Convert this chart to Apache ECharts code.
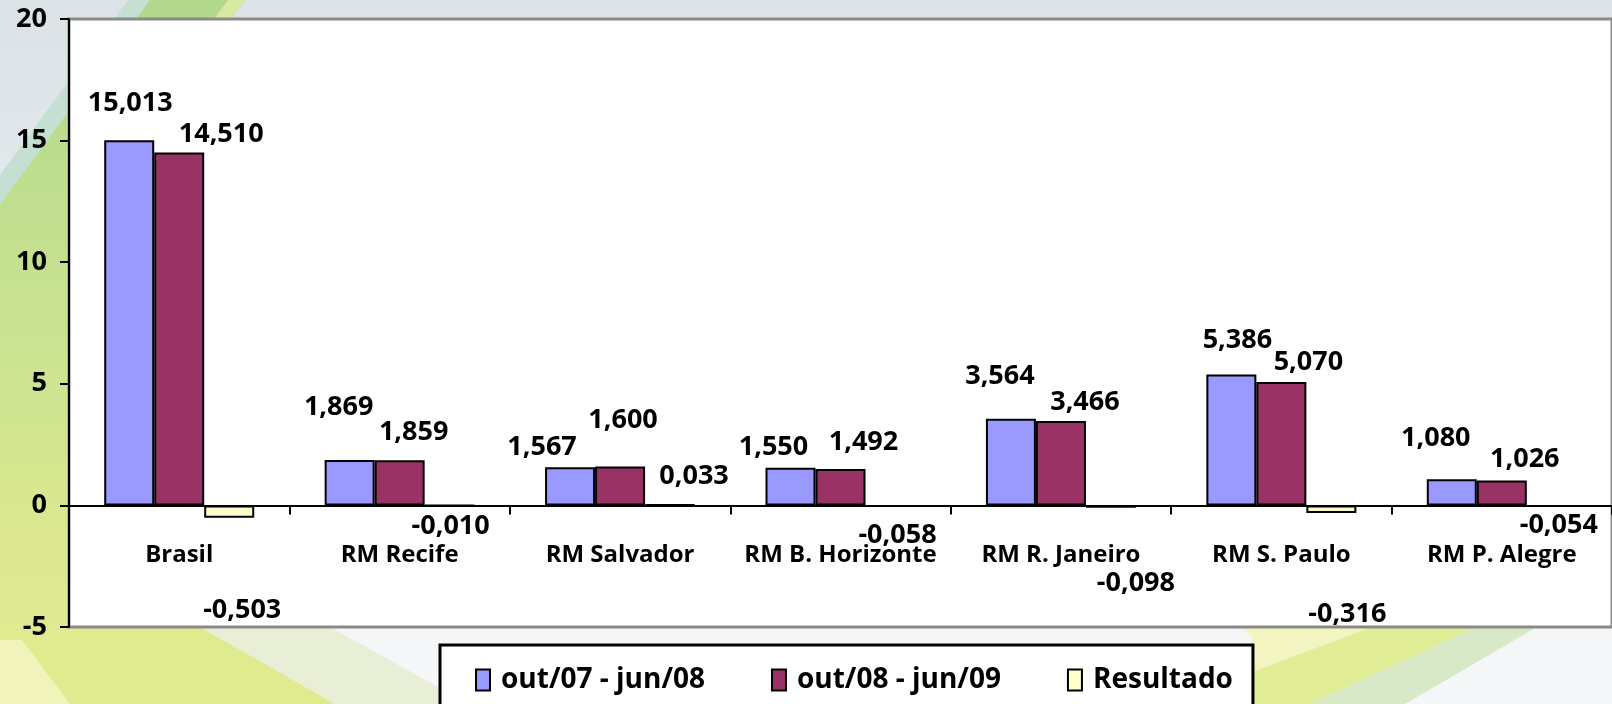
<!DOCTYPE html>
<html>
<head>
<meta charset="utf-8">
<script src="https://cdn.jsdelivr.net/npm/echarts@6/dist/echarts.min.js"></script>
<style>
  html, body { margin: 0; padding: 0; }
  #chart_box { width: 1612px; height: 704px; }
</style>
</head>
<body>
<div id="chart_box"></div>
<script>
// categorias e valores (milhões)
let categories = ['Brasil', 'RM Recife', 'RM Salvador', 'RM B. Horizonte', 'RM R. Janeiro', 'RM S. Paulo', 'RM P. Alegre']
let seriesNames = ['out/07 - jun/08', 'out/08 - jun/09', 'Resultado']
let periodo0708 = [15.013, 1.869, 1.567, 1.550, 3.564, 5.386, 1.080]
let periodo0809 = [14.510, 1.859, 1.600, 1.492, 3.466, 5.070, 1.026]
let resultado = [-0.503, -0.010, 0.033, -0.058, -0.098, -0.316, -0.054]
let yTicks = { min: -5, max: 20, interval: 5 }

// deslocamento dos rótulos (como no gráfico original, ajustados à mão)
let labelShiftA = [[1, -18], [-11, -34], [-28, -1], [-17, -2], [-11, -24], [6, -16], [-16, -22]]
let labelShiftB = [[42, 0], [14, -9], [3, -28], [23, -8], [24, 0], [27, -1], [23, -3]]
let labelShiftC = [[13, 74], [1, 1], [24, -9], [7, 10], [25, 57], [16, 83], [7, 0]]

const labelFont = "'Open Sans', 'Noto Sans', sans-serif"

function fmt(v){
    return v.toFixed(3).replace('.', ',')
}

function buildData(values, shifts, isResult){
    return values.map((v, i) => ({
        value: v,
        label: {
            position: (isResult && v < 0) ? 'bottom' : 'top',
            offset: shifts[i]
        }
    }))
}

let barLabel = {
    show: true,
    color: '#000',
    fontFamily: labelFont,
    fontWeight: 'bold',
    fontSize: 27,
    formatter: function (p) { return fmt(p.value) }
}

// fundo decorativo do slide
function poly(points, fill, z){
    return { type: 'polygon', z: z, silent: true, shape: { points: points }, style: { fill: fill } }
}
let decor = [
    {
        type: 'rect', z: -30, silent: true,
        shape: { x: 0, y: 0, width: 1612, height: 704 },
        style: {
            fill: new echarts.graphic.LinearGradient(0, 0, 0, 1, [
                { offset: 0, color: '#dbe3e7' },
                { offset: 0.85, color: '#f3f5f6' },
                { offset: 1, color: '#f6f7f8' }
            ])
        }
    },
    poly([[133, 0], [245, 0], [69, 240], [69, 704], [0, 704], [0, 180]],
        new echarts.graphic.LinearGradient(0, 0, 0, 1, [
            { offset: 0, color: '#b2d88b' },
            { offset: 0.45, color: '#c8e291' },
            { offset: 0.75, color: '#dbe88f' },
            { offset: 1, color: '#e2eb93' }
        ]), -25),
    poly([[128, 0], [150, 0], [0, 205], [0, 175]], '#c4e0d3', -24),
    poly([[228, 0], [245, 0], [69, 240], [69, 215]], '#d8e9a0', -24),
    poly([[0, 627], [200, 627], [262, 662], [335, 704], [0, 704]], '#e0ea8e', -24),
    poly([[200, 627], [330, 627], [440, 688], [440, 704], [335, 704], [262, 662]], '#e8efd6', -24),
    poly([[0, 640], [22, 640], [70, 704], [0, 704]], '#f0f4bb', -23),
    poly([[1240, 627], [1372, 627], [1252, 672], [1252, 636]], '#f2f5c2', -24),
    poly([[1372, 627], [1477, 627], [1310, 704], [1252, 704], [1252, 672]], '#e0ec96', -24),
    poly([[1477, 627], [1537, 627], [1405, 704], [1310, 704]], '#d8e9c8', -24)
]

let myChart = echarts.init(document.getElementById('chart_box'))
let option = {
    animation: false,
    backgroundColor: '#e6ecee',
    graphic: decor,
    grid: {
        show: true,
        left: 69,
        right: -15,
        top: 19,
        bottom: 77,
        backgroundColor: '#fff',
        borderColor: '#8a8a8a',
        borderWidth: 3
    },
    legend: {
        data: seriesNames,
        left: 440,
        top: 645,
        padding: [21, 20, 22, 35],
        itemWidth: 14,
        itemHeight: 21,
        itemGap: 66,
        backgroundColor: '#fff',
        borderColor: '#000',
        borderWidth: 3,
        borderRadius: 0,
        icon: 'rect',
        itemStyle: { borderColor: '#000', borderWidth: 2 },
        textStyle: {
            fontFamily: labelFont,
            fontWeight: 'bold',
            fontSize: 28,
            color: '#000',
            padding: [0, 0, 0, 6]
        }
    },
    xAxis: {
        type: 'category',
        data: categories,
        axisLine: { onZero: true, lineStyle: { color: '#000', width: 2 } },
        axisTick: { show: true, length: 9, lineStyle: { color: '#000', width: 2 } },
        axisLabel: {
            interval: 0,
            margin: -84,
            color: '#000',
            fontFamily: labelFont,
            fontWeight: 'bold',
            fontSize: 24
        }
    },
    yAxis: {
        type: 'value',
        min: yTicks.min,
        max: yTicks.max,
        interval: yTicks.interval,
        splitLine: { show: false },
        axisLine: { show: true, lineStyle: { color: '#000', width: 2 } },
        axisTick: { show: true, length: 9, lineStyle: { color: '#000', width: 2 } },
        axisLabel: {
            margin: 22,
            color: '#000',
            fontFamily: labelFont,
            fontWeight: 'bold',
            fontSize: 27
        }
    },
    series: [
        {
            name: seriesNames[0],
            type: 'bar',
            barWidth: 50,
            barGap: '0%',
            data: buildData(periodo0708, labelShiftA, false),
            itemStyle: { color: '#9999ff', borderColor: '#000', borderWidth: 2 },
            label: barLabel
        },
        {
            name: seriesNames[1],
            type: 'bar',
            barWidth: 50,
            barGap: '0%',
            data: buildData(periodo0809, labelShiftB, false),
            itemStyle: { color: '#993366', borderColor: '#000', borderWidth: 2 },
            label: barLabel
        },
        {
            name: seriesNames[2],
            type: 'bar',
            barWidth: 50,
            barGap: '0%',
            data: buildData(resultado, labelShiftC, true),
            itemStyle: { color: '#ffffcc', borderColor: '#000', borderWidth: 2 },
            label: barLabel
        }
    ]
}
myChart.setOption(option)
</script>
</body>
</html>
